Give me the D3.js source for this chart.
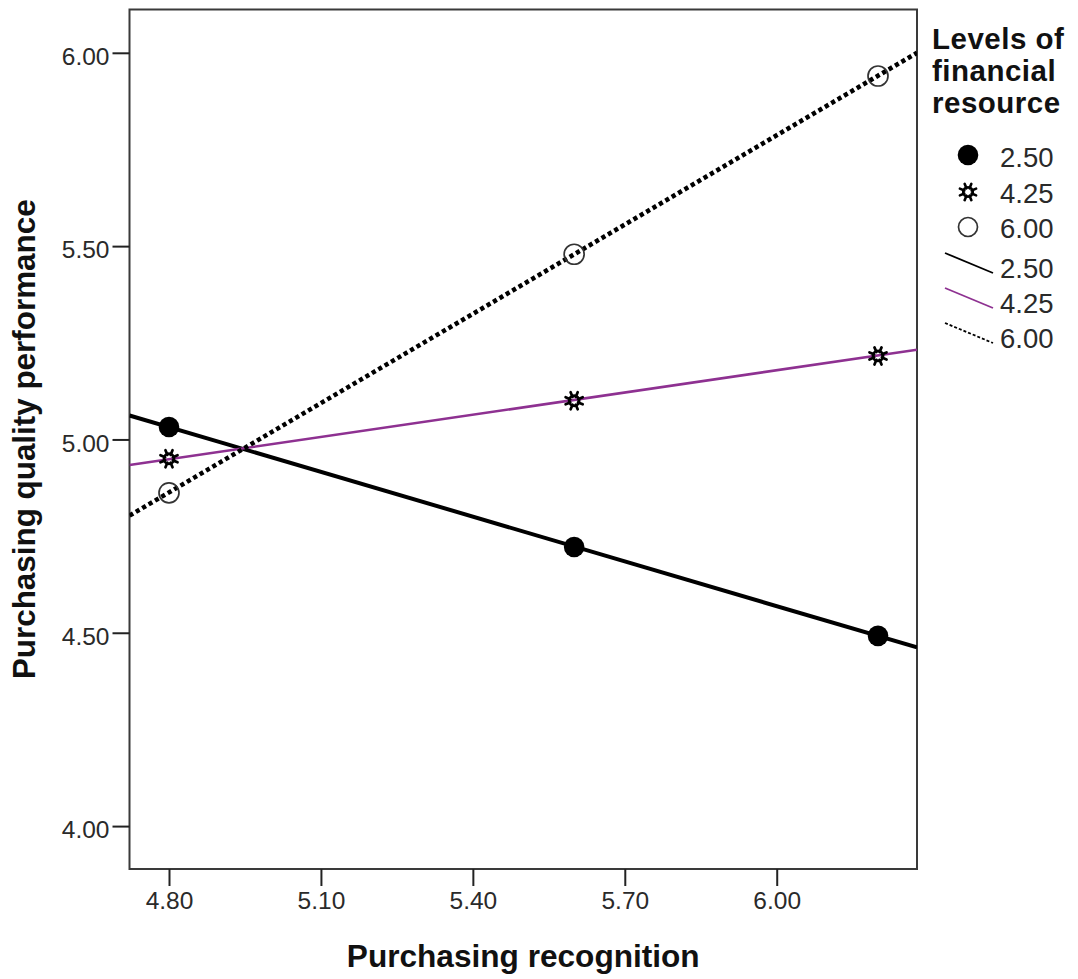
<!DOCTYPE html>
<html><head><meta charset="utf-8">
<script src="https://cdn.jsdelivr.net/npm/d3@7"></script>
<style>html,body{margin:0;padding:0;background:#fff;}svg{display:block;}</style>
</head><body>
<svg id="chart" width="1078" height="979"></svg>
<script>
// ---- data ----
const xPoints = [4.80, 5.60, 6.20];
const levelLabels = ["2.50", "4.25", "6.00"];
const meansLow = [5.032, 4.722, 4.492];
const meansMid = [4.950, 5.100, 5.216];
const meansHigh = [4.862, 5.479, 5.940];
// fitted lines: values at left and right edge of the x range
const fitX = [4.722, 6.277];
const fitLow = [5.062, 4.462];
const fitMid = [4.934, 5.232];
const fitHigh = [4.803, 6.000];
const xTicks = [4.80, 5.10, 5.40, 5.70, 6.00];
const yTicks = [4.00, 4.50, 5.00, 5.50, 6.00];
const xTitle = "Purchasing recognition";
const yTitle = "Purchasing quality performance";
const legendTitle = ["Levels of", "financial", "resource"];

// ---- layout ----
const svg = d3.select("#chart");
const L = 129.5, R = 917, T = 9.5, B = 869;
const x = d3.scaleLinear().domain([4.722, 6.277]).range([L, R]);
const y = d3.scaleLinear().domain([3.889, 6.112]).range([B, T]);
const font = "'Liberation Sans', Arial, sans-serif";
const purple = "#8e3191";

svg.append("defs").append("clipPath").attr("id", "clip")
  .append("rect").attr("x", L).attr("y", T).attr("width", R - L).attr("height", B - T);

// frame
svg.append("rect").attr("x", L).attr("y", T).attr("width", R - L).attr("height", B - T)
  .attr("fill", "#fff").attr("stroke", "#3a3a3a").attr("stroke-width", 2);

// axes
const xAxis = d3.axisBottom(x).tickValues(xTicks).tickFormat(d3.format(".2f")).tickSize(17).tickPadding(6);
const yAxis = d3.axisLeft(y).tickValues(yTicks).tickFormat(d3.format(".2f")).tickSize(17).tickPadding(3);
const gx = svg.append("g").attr("transform", `translate(0,${B})`).call(xAxis);
const gy = svg.append("g").attr("transform", `translate(${L},0)`).call(yAxis);
[gx, gy].forEach(g => {
  g.select(".domain").remove();
  g.selectAll(".tick line").attr("stroke", "#222").attr("stroke-width", 2);
  g.selectAll(".tick text").attr("font-family", font).attr("font-size", 24.5).attr("fill", "#2a2a2a");
});
gy.selectAll(".tick text").attr("dy", "0.48em");

// axis titles
svg.append("text").attr("x", (L + R) / 2).attr("y", 967).attr("text-anchor", "middle")
  .attr("font-family", font).attr("font-weight", "bold").attr("font-size", 31.6).attr("fill", "#111")
  .text(xTitle);
svg.append("text").attr("transform", `translate(35,${(T + B) / 2}) rotate(-90)`).attr("text-anchor", "middle")
  .attr("font-family", font).attr("font-weight", "bold").attr("font-size", 31.4).attr("fill", "#111")
  .text(yTitle);

// fitted lines
const plot = svg.append("g").attr("clip-path", "url(#clip)");
const lineGen = d3.line().x(d => x(d[0])).y(d => y(d[1]));
const fits = [
  {v: fitLow, stroke: "#000", w: 4, dash: null},
  {v: fitMid, stroke: purple, w: 2.6, dash: null},
  {v: fitHigh, stroke: "#000", w: 4.6, dash: "4.2,3.2"}
];
fits.forEach(f => {
  plot.append("path").datum(fitX.map((xv, i) => [xv, f.v[i]]))
    .attr("d", lineGen).attr("fill", "none").attr("stroke", f.stroke)
    .attr("stroke-width", f.w).attr("stroke-dasharray", f.dash);
});

// star marker
function starMarker(g, cx, cy, s) {
  const m = g.append("g").attr("transform", `translate(${cx},${cy})`);
  for (let k = 0; k < 8; k++) {
    const a = k * Math.PI / 4 + Math.PI / 8;
    m.append("line").attr("x1", Math.cos(a) * 4 * s).attr("y1", Math.sin(a) * 4 * s)
      .attr("x2", Math.cos(a) * 8.8 * s).attr("y2", Math.sin(a) * 8.8 * s)
      .attr("stroke", "#000").attr("stroke-width", 2.6 * s).attr("stroke-linecap", "round");
  }
  m.append("circle").attr("r", 4.8 * s).attr("fill", "none").attr("stroke", "#000").attr("stroke-width", 2.6 * s);
}

// markers
const pts = svg.append("g");
pts.selectAll("circle.low").data(xPoints).join("circle").attr("class", "low")
  .attr("cx", d => x(d)).attr("cy", (d, i) => y(meansLow[i])).attr("r", 10.3).attr("fill", "#000");
xPoints.forEach((d, i) => starMarker(pts, x(d), y(meansMid[i]), 1.05));
pts.selectAll("circle.high").data(xPoints).join("circle").attr("class", "high")
  .attr("cx", d => x(d)).attr("cy", (d, i) => y(meansHigh[i])).attr("r", 10)
  .attr("fill", "none").attr("stroke", "#333").attr("stroke-width", 1.7);

// legend
const lg = svg.append("g");
legendTitle.forEach((t, i) => {
  lg.append("text").attr("x", 932).attr("y", 49 + i * 32)
    .attr("font-family", font).attr("font-weight", "bold").attr("font-size", 29.5)
    .attr("letter-spacing", 0.5).attr("fill", "#111").text(t);
});
const itemY = [167, 203, 238, 278, 313, 348];
const itemLabels = levelLabels.concat(levelLabels);
itemLabels.forEach((t, i) => {
  lg.append("text").attr("x", 1000).attr("y", itemY[i])
    .attr("font-family", font).attr("font-size", 27.5).attr("fill", "#2a2a2a").text(t);
});
lg.append("circle").attr("cx", 968).attr("cy", 155).attr("r", 10.3).attr("fill", "#000");
starMarker(lg, 968, 192, 1.0);
lg.append("circle").attr("cx", 968).attr("cy", 227).attr("r", 9.5).attr("fill", "none")
  .attr("stroke", "#333").attr("stroke-width", 1.7);
const legLines = [
  {stroke: "#000", dash: null, w: 1.8},
  {stroke: purple, dash: null, w: 1.8},
  {stroke: "#000", dash: "3,2", w: 1.8}
];
legLines.forEach((l, i) => {
  const cy = itemY[3 + i] - 15;
  lg.append("line").attr("x1", 945).attr("y1", cy - 10).attr("x2", 993).attr("y2", cy + 10)
    .attr("stroke", l.stroke).attr("stroke-width", l.w).attr("stroke-dasharray", l.dash);
});
</script>
</body></html>
